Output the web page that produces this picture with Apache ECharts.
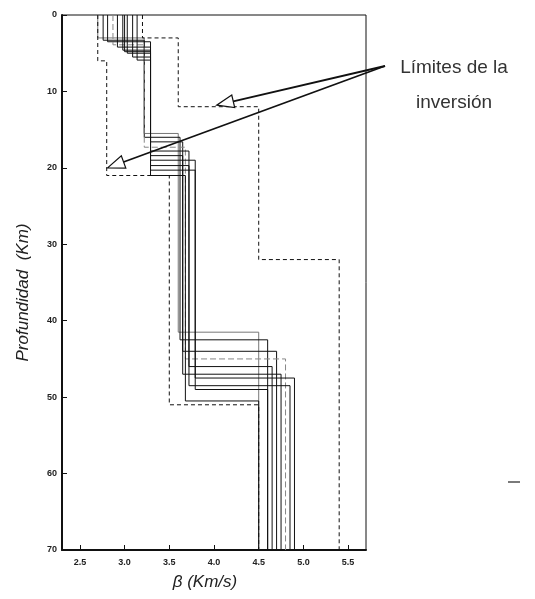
<!DOCTYPE html>
<html><head><meta charset="utf-8">
<script src="https://cdn.jsdelivr.net/npm/echarts@6/dist/echarts.min.js"></script>
<style>html,body{margin:0;padding:0;background:#fff}#c{width:535px;height:599px}</style>
</head><body><div id="c"></div>
<script>
// tick labels
const xTicks = [2.5, 3.0, 3.5, 4.0, 4.5, 5.0, 5.5];
const yTicks = [0, 10, 20, 30, 40, 50, 60, 70];
// inverted velocity models (one entry per model): layer velocities (km/s) and interface depths (km)
const v1 = [2.70, 2.76, 2.81, 2.87, 2.92, 2.98, 3.03, 3.09, 3.14, 3.00];
const d1 = [3.0, 3.3, 3.5, 3.9, 4.2, 4.6, 5.0, 5.5, 5.9, 4.8];
const v2 = [3.22, 3.22, 3.29, 3.22, 3.29, 3.29, 3.29, 3.29, 3.29, 3.29];
const d2 = [15.5, 16.0, 16.6, 17.3, 17.8, 18.4, 19.0, 19.7, 20.3, 21.0];
const v3 = [3.60, 3.62, 3.65, 3.68, 3.72, 3.65, 3.79, 3.72, 3.79, 3.68];
const d3 = [41.5, 42.5, 44.0, 45.0, 46.0, 47.0, 47.5, 48.5, 49.0, 50.5];
const v4 = [4.50, 4.60, 4.70, 4.80, 4.65, 4.75, 4.90, 4.85, 4.60, 4.50];
// limits of the inversion (dashed)
const minV = [2.70, 2.80, 3.50, 4.50];
const minD = [6, 21, 51];
const maxV = [3.20, 3.60, 4.50, 5.40];
const maxD = [3, 12, 32];
const depthMax = 70;
const annotation = ['Límites de la', 'inversión'];
// arrow tips (km/s, km)
const arrowTips = [[4.03, 11.8], [2.81, 20.0]];

function stepPts(vs, ds) {
  const pts = []; let top = 0;
  for (let i = 0; i < vs.length; i++) {
    const b = i < ds.length ? ds[i] : depthMax;
    pts.push([vs[i], top], [vs[i], b]);
    top = b;
  }
  return pts;
}

const greyIdx = {0: '#777', 3: '#888'};
const series = [];
for (let i = 0; i < v1.length; i++) {
  series.push({
    type: 'line', showSymbol: false, silent: true, animation: false,
    data: stepPts([v1[i], v2[i], v3[i], v4[i]], [d1[i], d2[i], d3[i]]),
    lineStyle: {width: 1, color: greyIdx[i] || '#111', type: i === 3 ? [6, 3] : 'solid'}
  });
}
series.push({
  type: 'line', showSymbol: false, silent: true, animation: false,
  data: stepPts(minV, minD), lineStyle: {width: 1, color: '#111', type: [4, 3]}
});
series.push({
  type: 'line', showSymbol: false, silent: true, animation: false,
  data: stepPts(maxV, maxD), lineStyle: {width: 1, color: '#111', type: [4, 3]}
});

const chart = echarts.init(document.getElementById('c'), null, {renderer: 'canvas'});
const labelFont = {fontFamily: 'Liberation Sans', fontSize: 9, color: '#222', fontWeight: 'bold'};
chart.setOption({
  animation: false,
  backgroundColor: '#fff',
  grid: {left: 62, right: 169, top: 15, bottom: 49, show: true, borderColor: '#111', borderWidth: 1},
  xAxis: {
    type: 'value', min: 2.3, max: 5.7,
    name: 'β (Km/s)', nameLocation: 'middle', nameGap: 24,
    nameTextStyle: {fontFamily: 'Liberation Sans', fontStyle: 'italic', fontSize: 17, color: '#222', padding: [0, 18, 0, 0]},
    axisLine: {onZero: false, lineStyle: {color: '#111', width: 2}},
    axisTick: {inside: true, length: 5, lineStyle: {color: '#111'}, customValues: xTicks},
    axisLabel: Object.assign({customValues: xTicks, margin: 8, formatter: v => v.toFixed(1)}, labelFont),
    splitLine: {show: false}
  },
  yAxis: {
    type: 'value', inverse: true, min: 0, max: depthMax,
    name: 'Profundidad  (Km)', nameLocation: 'middle', nameGap: 30,
    nameTextStyle: {fontFamily: 'Liberation Sans', fontStyle: 'italic', fontSize: 17, color: '#222', padding: [0, 20, 0, 0]},
    axisLine: {onZero: false, lineStyle: {color: '#111', width: 2}},
    axisTick: {inside: true, length: 5, lineStyle: {color: '#111'}, customValues: yTicks},
    axisLabel: Object.assign({customValues: yTicks, margin: 5}, labelFont),
    splitLine: {show: false}
  },
  series: series
});

// annotation arrows
const S = [385, 66];
const graphics = [];
arrowTips.forEach(t => {
  const p = chart.convertToPixel({xAxisIndex: 0, yAxisIndex: 0}, t);
  const dx = S[0] - p[0], dy = S[1] - p[1];
  const len = Math.hypot(dx, dy);
  const ux = dx / len, uy = dy / len;
  const L = 17, w = 6.5;
  const bx = p[0] + ux * L, by = p[1] + uy * L;
  const nx = -uy, ny = ux;
  graphics.push({type: 'line', shape: {x1: S[0], y1: S[1], x2: bx, y2: by}, style: {stroke: '#111', lineWidth: 1.8}, z: 10});
  graphics.push({type: 'polygon', shape: {points: [[p[0], p[1]], [bx + nx * w, by + ny * w], [bx - nx * w, by - ny * w]]},
    style: {fill: '#fff', stroke: '#111', lineWidth: 1.2}, z: 11});
});
graphics.push({type: 'text', x: 454, y: 68, z: 12, style: {text: annotation[0], font: '19px "Liberation Sans"', fill: '#333', align: 'center', verticalAlign: 'middle'}});
graphics.push({type: 'text', x: 454, y: 103, z: 12, style: {text: annotation[1], font: '19px "Liberation Sans"', fill: '#333', align: 'center', verticalAlign: 'middle'}});
graphics.push({type: 'line', shape: {x1: 508, y1: 482, x2: 520, y2: 482}, style: {stroke: '#222', lineWidth: 1.2}});
chart.setOption({graphic: graphics});
</script>
</body></html>
